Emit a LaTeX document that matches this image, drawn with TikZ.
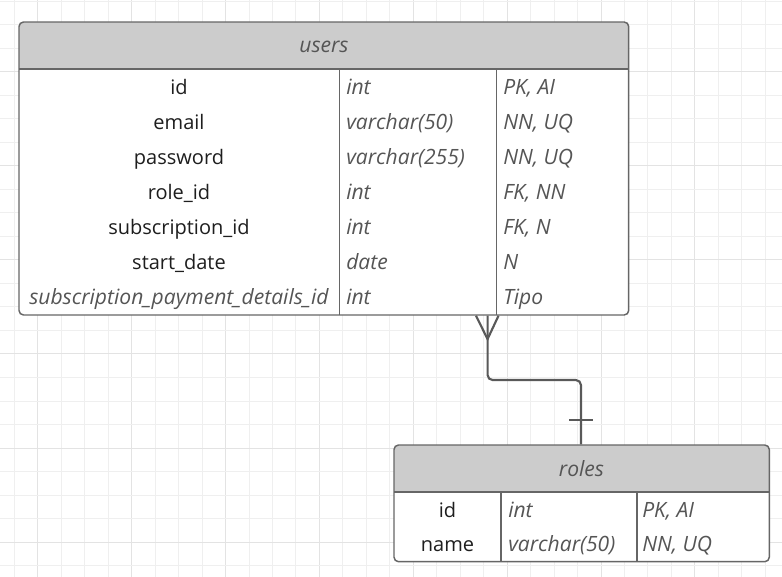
\documentclass[tikz,border=0pt]{standalone}
\usepackage{fontspec}
\setmainfont{Open Sans}
\usetikzlibrary{fit}

\definecolor{gridminor}{HTML}{EFEFEF}
\definecolor{gridmajor}{HTML}{E3E3E3}
\definecolor{hdrfill}{HTML}{CCCCCC}
\definecolor{edge}{HTML}{666666}
\definecolor{ink}{HTML}{1E1E1E}
\definecolor{soft}{HTML}{555555}
\definecolor{linkc}{HTML}{595959}

\newcommand{\uprfont}{\fontsize{15}{17}\selectfont}
\newcommand{\itfont}{\fontsize{15.8}{18}\selectfont\itshape}

\tikzset{
  gridline/.style={gridminor, line width=0.75pt},
  gridbold/.style={gridmajor, line width=0.75pt},
  tablebox/.style={draw=edge, line width=1.1pt, rounded corners=3.4pt, inner sep=0pt, fill=none},
  divider/.style={edge, line width=1.1pt},
  cell/.style={inner sep=0pt},
  fld/.style={cell, anchor=base, text=ink, font=\uprfont},
  fldsoft/.style={cell, anchor=base, text=soft, font=\itfont},
  typ/.style={cell, anchor=base west, text=soft, font=\itfont},
  title/.style={cell, anchor=base, text=soft, font=\itfont},
  rel/.style={linkc, line width=1.6pt, rounded corners=3.8pt},
  relmark/.style={linkc, line width=1.6pt},
}

\begin{document}
\begin{tikzpicture}[x=0.75pt, y=-0.75pt]
\useasboundingbox (0,0) rectangle (782,577);
\fill[white] (0,0) rectangle (782,577);

% background grid, every fourth line slightly darker
\foreach \k in {0,...,33}{
  \pgfmathtruncatemacro{\m}{mod(\k,4)}
  \ifnum\m=1 \draw[gridbold] ({14.3+23.47*\k},0) -- ({14.3+23.47*\k},577);
  \else \draw[gridline] ({14.3+23.47*\k},0) -- ({14.3+23.47*\k},577); \fi
}
\foreach \k in {0,...,24}{
  \pgfmathtruncatemacro{\m}{mod(\k,4)}
  \ifnum\m=3 \draw[gridbold] (0,{1.5+23.5*\k}) -- (782,{1.5+23.5*\k});
  \else \draw[gridline] (0,{1.5+23.5*\k}) -- (782,{1.5+23.5*\k}); \fi
}

% ---------- table: users ----------
\coordinate (u-nw) at (19,22);
\coordinate (u-se) at (628.7,315);
\fill[white, rounded corners=3.4pt] (u-nw) rectangle (u-se);
\begin{scope}
  \clip[rounded corners=3.4pt] (u-nw) rectangle (u-se);
  \fill[hdrfill] (19,22) rectangle (628.7,69);
\end{scope}
\draw[divider] (19,69) -- (628.7,69);
\draw[divider] (339.3,69) -- (339.3,315);
\draw[divider] (496.7,69) -- (496.7,315);
\node[tablebox, fit=(u-nw)(u-se)] (users) {};

\node[title] (users-title) at (324,53) {users};

\node[fld] (u-id)    at (179,95)  {id};
\node[fld] (u-email) at (179,130) {email};
\node[fld] (u-pass)  at (179,165) {password};
\node[fld] (u-role)  at (179,200) {role\_id};
\node[fld] (u-sub)   at (179,235) {subscription\_id};
\node[fld] (u-start) at (179,270) {start\_date};
\node[fldsoft] (u-spd) at (179,305) {subscription\_payment\_details\_id};

\node[typ] (u-id-t)    at (346,95)  {int};
\node[typ] (u-email-t) at (346,130) {varchar(50)};
\node[typ] (u-pass-t)  at (346,165) {varchar(255)};
\node[typ] (u-role-t)  at (346,200) {int};
\node[typ] (u-sub-t)   at (346,235) {int};
\node[typ] (u-start-t) at (346,270) {date};
\node[typ] (u-spd-t)   at (346,305) {int};

\node[typ] (u-id-c)    at (503,95)  {PK, AI};
\node[typ] (u-email-c) at (503,130) {NN, UQ};
\node[typ] (u-pass-c)  at (503,165) {NN, UQ};
\node[typ] (u-role-c)  at (503,200) {FK, NN};
\node[typ] (u-sub-c)   at (503,235) {FK, N};
\node[typ] (u-start-c) at (503,270) {N};
\node[typ] (u-spd-c)   at (503,305) {Tipo};

% ---------- table: roles ----------
\coordinate (r-nw) at (394,445);
\coordinate (r-se) at (769.3,561.7);
\fill[white, rounded corners=3.4pt] (r-nw) rectangle (r-se);
\begin{scope}
  \clip[rounded corners=3.4pt] (r-nw) rectangle (r-se);
  \fill[hdrfill] (394,445) rectangle (769.3,492);
\end{scope}
\draw[divider] (394,492) -- (769.3,492);
\draw[divider] (501,492) -- (501,561.7);
\draw[divider] (637,492) -- (637,561.7);
\node[tablebox, fit=(r-nw)(r-se)] (roles) {};

\node[title] (roles-title) at (581.5,476) {roles};

\node[fld] (r-id)   at (447.5,517.5) {id};
\node[fld] (r-name) at (447.5,551.5) {name};
\node[typ] (r-id-t)   at (508,517.5) {int};
\node[typ] (r-name-t) at (508,551.5) {varchar(50)};
\node[typ] (r-id-c)   at (642,517.5) {PK, AI};
\node[typ] (r-name-c) at (642,551.5) {NN, UQ};

% ---------- relationship users (many) -> roles (one) ----------
\path (users.south west) ++(469.3,0) coordinate (fk);
\path (roles.north west) ++(187.7,0) coordinate (pk);
\draw[rel] (fk) -- ++(0,64.3) -| (pk);
% crow's foot at the users end
\draw[relmark] ([xshift=-8.7pt]fk) -- ([yshift=-17.5pt]fk) -- ([xshift=8.2pt]fk);
% single bar at the roles end
\draw[relmark] ([xshift=-8.8pt, yshift=18pt]pk) -- ([xshift=8.7pt, yshift=18pt]pk);
\end{tikzpicture}
\end{document}
